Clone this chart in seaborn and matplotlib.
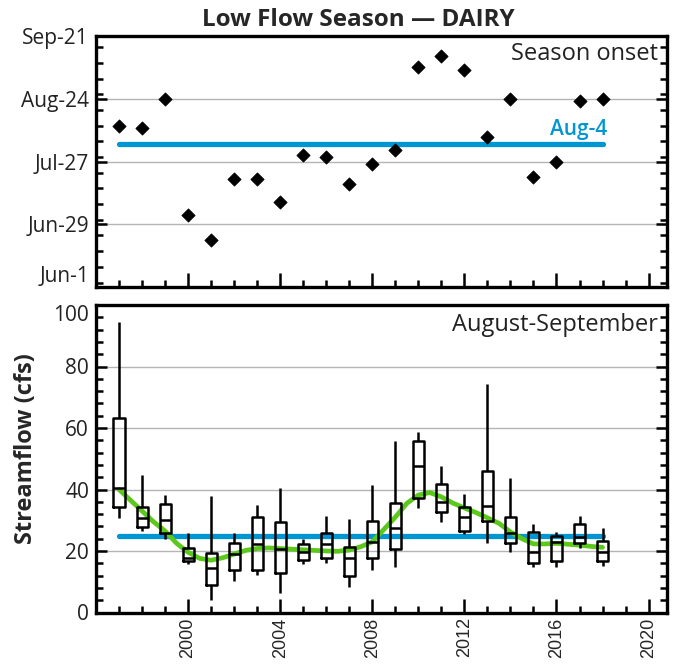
import numpy as np
import pandas as pd
import matplotlib
matplotlib.use("Agg")
import matplotlib.pyplot as plt
import seaborn as sns
from matplotlib.ticker import MultipleLocator, FixedLocator

# ---- data ----
years = list(range(1997, 2019))

# low-flow season onset date per year
onset = ["Aug-12", "Aug-11", "Aug-24", "Jul-3", "Jun-22", "Jul-19", "Jul-19",
         "Jul-9", "Jul-30", "Jul-29", "Jul-17", "Jul-26", "Aug-1", "Sep-7",
         "Sep-12", "Sep-6", "Aug-7", "Aug-24", "Jul-20", "Jul-27", "Aug-23",
         "Aug-24"]
onset_mean = "Aug-4"
date_ticks = ["Jun-1", "Jun-29", "Jul-27", "Aug-24", "Sep-21"]

# August-September streamflow (cfs): min, q1, median, q3, max
flow_min = [30.8, 26.6, 23.8, 15.9, 4.0, 10.3, 12.2, 6.5, 15.7, 16.0, 8.4,
            13.7, 14.9, 33.9, 29.5, 25.6, 22.7, 19.6, 14.7, 14.7, 20.9, 15.1]
flow_q1 = [34.4, 27.7, 25.7, 16.7, 8.9, 13.8, 13.8, 12.8, 17.1, 17.8, 11.9,
           17.6, 20.7, 37.1, 32.6, 26.5, 29.9, 22.7, 16.2, 16.7, 22.5, 16.8]
flow_med = [40.4, 30.6, 30.1, 17.8, 14.6, 19.1, 22.2, 20.7, 19.8, 22.2, 17.6,
            22.8, 27.6, 47.8, 35.8, 31.0, 34.7, 25.7, 19.8, 22.8, 24.7, 19.8]
flow_q3 = [63.1, 34.2, 35.2, 20.9, 19.2, 22.7, 31.0, 29.3, 22.2, 26.0, 21.4,
           29.9, 35.7, 55.9, 41.8, 34.4, 46.1, 31.2, 26.2, 24.9, 28.8, 23.4]
flow_max = [94.6, 44.7, 38.2, 25.7, 37.9, 25.7, 35.0, 40.5, 23.8, 31.4, 30.3,
            41.5, 55.8, 58.7, 47.5, 38.4, 74.2, 43.6, 28.7, 26.3, 31.4, 27.4]
flow_mean = 25
flow_ticks = [0, 20, 40, 60, 80, 100]
year_ticks = [2000, 2004, 2008, 2012, 2016, 2020]

# smoothed trend (green curve), read every half year
trend_years = np.arange(1997, 2018.5, 0.5)
trend_flow = [40.0, 36.5, 33.0, 29.5, 26.5, 22.5, 19.6, 17.6, 17.0, 17.8,
              19.0, 20.2, 20.8, 21.0, 20.8, 20.6, 20.4, 20.2, 20.0, 19.9,
              20.3, 21.4, 23.0, 27.0, 31.0, 35.5, 38.2, 39.0, 37.6, 35.6,
              34.0, 32.5, 30.8, 29.0, 26.2, 24.0, 22.3, 22.3, 22.5, 22.2,
              21.9, 21.5, 21.2]


def doy(s):
    return pd.to_datetime("2001-" + s, format="%Y-%b-%d").dayofyear


onset_df = pd.DataFrame({"year": years, "doy": [doy(s) for s in onset]})
flow_df = pd.DataFrame({
    "year": np.repeat(years, 5),
    "flow": np.column_stack([flow_min, flow_q1, flow_med, flow_q3, flow_max]).ravel(),
})

BLUE = "#0096d2"
GREEN = "#5cc81a"

sns.set_theme(style="white")
plt.rcParams["font.family"] = ["Open Sans", "DejaVu Sans"]

fig = plt.figure(figsize=(6.75, 6.69), dpi=100)
ax1 = fig.add_axes([96 / 675, 1 - 287 / 669, 571 / 675, 251 / 669])
ax2 = fig.add_axes([96 / 675, 1 - 612.5 / 669, 571 / 675, 307.5 / 669])

# ---- top: season onset ----
sns.lineplot(x=[years[0], years[-1]], y=[doy(onset_mean)] * 2, color=BLUE,
             lw=3.8, solid_capstyle="round", ax=ax1, zorder=2)
sns.scatterplot(data=onset_df, x="year", y="doy", marker="D", s=46,
                color="black", edgecolor="black", linewidth=0.5, ax=ax1, zorder=3)
ax1.annotate(onset_mean, (years[-1] + 0.2, doy(onset_mean)), xytext=(0, 2.5),
             textcoords="offset points", color=BLUE, fontsize=15,
             fontweight="semibold", ha="right", va="bottom")
ax1.text(0.985, 0.975, "Season onset", transform=ax1.transAxes, fontsize=17,
         ha="right", va="top", color="#222222")
ax1.set_ylim(doy(date_ticks[0]), doy(date_ticks[-1]))
ax1.yaxis.set_major_locator(FixedLocator([doy(d) for d in date_ticks]))
ax1.set_yticklabels(date_ticks)
ax1.yaxis.set_minor_locator(MultipleLocator(7))
ax1.set_xticks(year_ticks)
ax1.set_xticklabels([])

# ---- bottom: Aug-Sep streamflow ----
sns.lineplot(x=[years[0], years[-1]], y=[flow_mean] * 2, color=BLUE, lw=3.8,
             solid_capstyle="round", ax=ax2, zorder=2)
sns.lineplot(x=trend_years, y=trend_flow, color=GREEN, lw=3.4, ax=ax2, zorder=3)
sns.boxplot(data=flow_df, x="year", y="flow", native_scale=True, orient="x",
            whis=(0, 100), width=0.48, fill=False, color="black", linewidth=1.8,
            showcaps=False, ax=ax2, zorder=4)
ax2.text(0.985, 0.975, "August-September", transform=ax2.transAxes, fontsize=17,
         ha="right", va="top", color="#222222")
ax2.set_ylim(0, 100)
ax2.set_yticks(flow_ticks)
ax2.yaxis.set_minor_locator(MultipleLocator(4))
ax2.set_xticks(year_ticks)
ax2.set_xticklabels([str(y) for y in year_ticks], rotation=90, fontsize=13,
                    family="Liberation Sans")

for ax in (ax1, ax2):
    ax.set_xlim(1996, 2020.8)
    ax.xaxis.set_minor_locator(MultipleLocator(1))
    ax.set_xlabel("")
    ax.set_ylabel("")
    ax.yaxis.grid(True, color="#b4b4b4", lw=1)
    ax.xaxis.grid(False)
    ax.set_axisbelow(True)
    for sp in ax.spines.values():
        sp.set_linewidth(2.4)
        sp.set_color("black")
    ax.tick_params(which="both", direction="in", left=True, right=True,
                   bottom=True, top=False, width=1.8, color="black")
    ax.tick_params(axis="y", which="major", length=8, labelsize=15, pad=5,
                   labelcolor="#222222")
    ax.tick_params(axis="y", which="minor", length=5)
    ax.tick_params(axis="x", which="major", length=10)
    ax.tick_params(axis="x", which="minor", length=5)

# keep the end labels of the two panels from colliding
ax1.yaxis.get_major_ticks()[0].label1.set_va("bottom")
ax2.yaxis.get_major_ticks()[-1].label1.set_va("top")

fig.text(358 / 675, 1 - 20 / 669, "Low Flow Season \u2014 DAIRY", fontsize=17.5,
         fontweight="bold", ha="center", va="center")
fig.text(26 / 675, 1 - 449 / 669, "Streamflow (cfs)", fontsize=17,
         fontweight="bold", rotation=90, ha="center", va="center")

fig.savefig("out.png", dpi=100)
